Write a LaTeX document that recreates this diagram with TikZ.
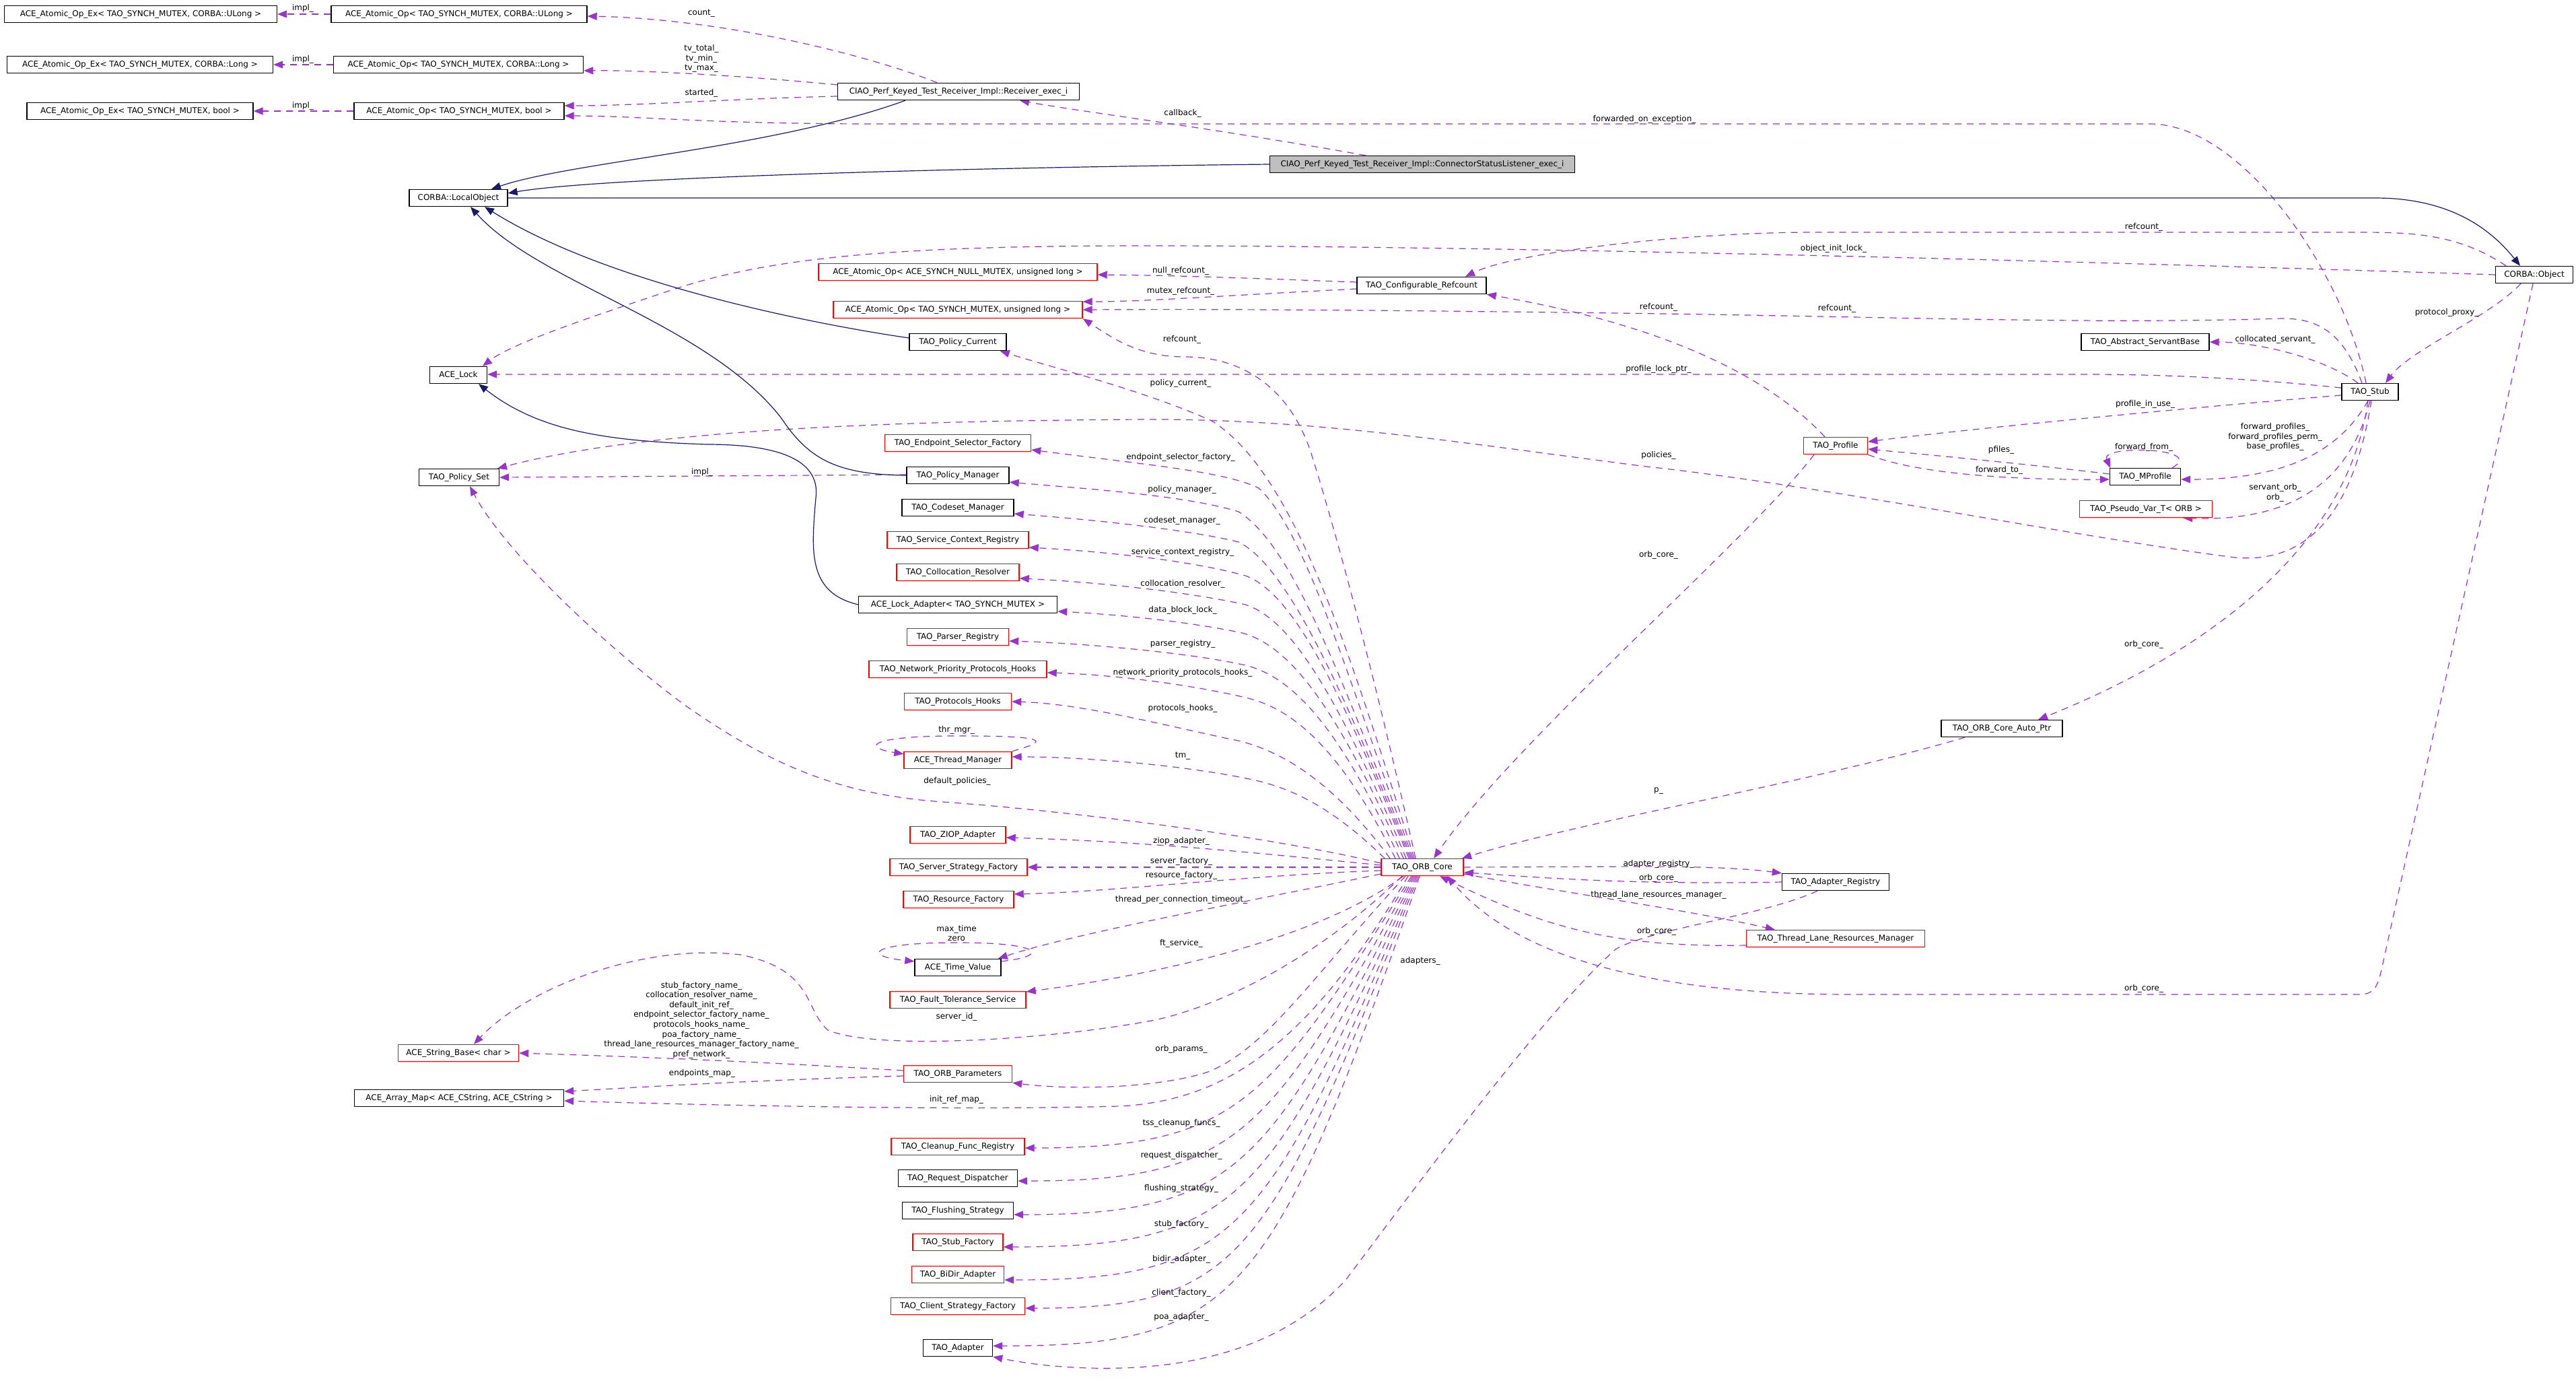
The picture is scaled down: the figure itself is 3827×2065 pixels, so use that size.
\documentclass[tikz,border=0pt]{standalone}
\usepackage{fontspec}
\setmainfont{DejaVu Sans}
\usetikzlibrary{arrows.meta}
\definecolor{dorch}{HTML}{9A32CD}
\definecolor{mblue}{HTML}{191970}
\definecolor{gfill}{HTML}{BFBFBF}
\pgfdeclarelayer{bg}
\pgfsetlayers{bg,main}
\newcommand{\fs}{\fontsize{12}{14.6}\selectfont}
\tikzset{
  box/.style={draw=black, line width=1.4pt, fill=white, minimum height=25pt, inner xsep=4pt, inner ysep=0pt, font=\fs, text=black},
  rbox/.style={box, draw=red},
  use/.style={draw=dorch, line width=1.2pt, dash pattern=on 10pt off 8pt, -{Triangle[length=14pt,width=11pt]}},
  inh/.style={draw=mblue, line width=1.2pt, -{Triangle[length=14pt,width=11pt]}},
  lbl/.style={font=\fs, inner sep=0pt, align=center, text=black}
}
\begin{document}
\begin{tikzpicture}[x=1pt,y=-1pt]
\path[use as bounding box] (0,0) rectangle (3827,2065);
% ---------- nodes ----------
\node[box, minimum width=405] (aoxUL) at (209,21) {ACE\_Atomic\_Op\_Ex< TAO\_SYNCH\_MUTEX, CORBA::ULong >};
\node[box, minimum width=380] (aoUL) at (682,21) {ACE\_Atomic\_Op< TAO\_SYNCH\_MUTEX, CORBA::ULong >};
\node[box, minimum width=395] (aoxL) at (208,96) {ACE\_Atomic\_Op\_Ex< TAO\_SYNCH\_MUTEX, CORBA::Long >};
\node[box, minimum width=371] (aoL) at (681,96) {ACE\_Atomic\_Op< TAO\_SYNCH\_MUTEX, CORBA::Long >};
\node[box, minimum width=336] (aoxB) at (208,165) {ACE\_Atomic\_Op\_Ex< TAO\_SYNCH\_MUTEX, bool >};
\node[box, minimum width=312] (aoB) at (682,165) {ACE\_Atomic\_Op< TAO\_SYNCH\_MUTEX, bool >};
\node[box, minimum width=359] (recv) at (1424,136) {CIAO\_Perf\_Keyed\_Test\_Receiver\_Impl::Receiver\_exec\_i};
\node[box, fill=gfill, minimum width=453] (csl) at (2113,244) {CIAO\_Perf\_Keyed\_Test\_Receiver\_Impl::ConnectorStatusListener\_exec\_i};
\node[box, minimum width=146] (lobj) at (681,294) {CORBA::LocalObject};
\node[box, minimum width=115] (obj) at (3765,408) {CORBA::Object};
\node[rbox, minimum width=414] (aoNull) at (1423,404) {ACE\_Atomic\_Op< ACE\_SYNCH\_NULL\_MUTEX, unsigned long >};
\node[rbox, minimum width=370] (aoULong) at (1423,460) {ACE\_Atomic\_Op< TAO\_SYNCH\_MUTEX, unsigned long >};
\node[box, minimum width=192] (cref) at (2112,424) {TAO\_Configurable\_Refcount};
\node[box, minimum width=144] (pcur) at (1423,508) {TAO\_Policy\_Current};
\node[box, minimum width=85] (lock) at (681,557) {ACE\_Lock};
\node[box, minimum width=190] (asb) at (3187,508) {TAO\_Abstract\_ServantBase};
\node[box, minimum width=84] (stub) at (3521,582) {TAO\_Stub};
\node[rbox, minimum width=217] (esf) at (1423,658) {TAO\_Endpoint\_Selector\_Factory};
\node[rbox, minimum width=95] (prof) at (2727,662) {TAO\_Profile};
\node[box, minimum width=119] (pset) at (682,709) {TAO\_Policy\_Set};
\node[box, minimum width=152] (pman) at (1423,706) {TAO\_Policy\_Manager};
\node[box, minimum width=105] (mprof) at (3187,708) {TAO\_MProfile};
\node[box, minimum width=166] (csm) at (1423,754) {TAO\_Codeset\_Manager};
\node[rbox, minimum width=197] (pvar) at (3188,756) {TAO\_Pseudo\_Var\_T< ORB >};
\node[rbox, minimum width=210] (scr) at (1423,802) {TAO\_Service\_Context\_Registry};
\node[rbox, minimum width=182] (colres) at (1423,850) {TAO\_Collocation\_Resolver};
\node[box, minimum width=295] (lad) at (1423,898) {ACE\_Lock\_Adapter< TAO\_SYNCH\_MUTEX >};
\node[rbox, minimum width=151] (preg) at (1423,946) {TAO\_Parser\_Registry};
\node[rbox, minimum width=264] (nph) at (1423,994) {TAO\_Network\_Priority\_Protocols\_Hooks};
\node[rbox, minimum width=159] (ph) at (1423,1042) {TAO\_Protocols\_Hooks};
\node[rbox, minimum width=160] (thm) at (1423,1129) {ACE\_Thread\_Manager};
\node[box, minimum width=180] (autop) at (2974,1082) {TAO\_ORB\_Core\_Auto\_Ptr};
\node[rbox, minimum width=142] (ziop) at (1423,1240) {TAO\_ZIOP\_Adapter};
\node[rbox, minimum width=204] (ssf) at (1424,1288) {TAO\_Server\_Strategy\_Factory};
\node[rbox, minimum width=122] (core) at (2113,1288) {TAO\_ORB\_Core};
\node[box, minimum width=159] (areg) at (2727,1310) {TAO\_Adapter\_Registry};
\node[rbox, minimum width=164] (rf) at (1424,1336) {TAO\_Resource\_Factory};
\node[rbox, minimum width=265] (tlrm) at (2727,1394) {TAO\_Thread\_Lane\_Resources\_Manager};
\node[box, minimum width=128] (tv) at (1423,1437) {ACE\_Time\_Value};
\node[rbox, minimum width=202] (fts) at (1423,1485) {TAO\_Fault\_Tolerance\_Service};
\node[rbox, minimum width=179] (sb) at (681,1564) {ACE\_String\_Base< char >};
\node[rbox, minimum width=161] (op) at (1423,1595) {TAO\_ORB\_Parameters};
\node[box, minimum width=311] (am) at (682,1631) {ACE\_Array\_Map< ACE\_CString, ACE\_CString >};
\node[rbox, minimum width=198] (cfr) at (1423,1703) {TAO\_Cleanup\_Func\_Registry};
\node[box, minimum width=177] (rd) at (1423,1750) {TAO\_Request\_Dispatcher};
\node[box, minimum width=165] (fs) at (1423,1798) {TAO\_Flushing\_Strategy};
\node[rbox, minimum width=134] (sf) at (1423,1845) {TAO\_Stub\_Factory};
\node[rbox, minimum width=137] (bd) at (1423,1893) {TAO\_BiDir\_Adapter};
\node[rbox, minimum width=199] (csf) at (1423,1940) {TAO\_Client\_Strategy\_Factory};
\node[box, minimum width=103] (ad) at (1423,2002) {TAO\_Adapter};
% ---------- edges ----------
\begin{pgfonlayer}{bg}
\fill[white] (0,0) rectangle (3827,2065);
\draw[use] (aoUL.west) -- (aoxUL.east);
\draw[use] (aoL.west) -- (aoxL.east);
\draw[use] (aoB.west) -- (aoxB.east);
\draw[use] ([xshift=-32]recv.north) .. controls (1300,85) and (1080,28) .. ([yshift=-3]aoUL.east);
\draw[use] ([yshift=10]recv.west) .. controls (1100,112) and (950,104) .. ([yshift=-9]aoL.east);
\draw[use] ([yshift=-7]recv.west) .. controls (1100,146) and (950,157) .. ([yshift=8]aoB.east);
\draw[use] ([xshift=-6]stub.north) .. controls (3480,400) and (3330,184) .. (3194,184) -- (1300,184) .. controls (1050,184) and (950,172) .. ([yshift=-7]aoB.east);
\draw[inh] ([xshift=-79]recv.south) .. controls (1150,220) and (850,240) .. ([xshift=49]lobj.north);
\draw[inh] (csl.west) .. controls (1500,248) and (900,262) .. ([yshift=7]lobj.east);
\draw[inh] (lobj.east) -- (3528,294) .. controls (3640,294) and (3700,340) .. ([xshift=-21]obj.north);
\draw[use] ([xshift=-84]csl.north) .. controls (1800,190) and (1600,165) .. ([xshift=91]recv.south);
\draw[use] ([xshift=-42]obj.north) .. controls (3650,346) and (3580,345) .. (3500,345) -- (2695,345) .. controls (2500,345) and (2250,375) .. ([xshift=65]cref.north);
\draw[use] (obj.west) .. controls (3000,385) and (2200,365) .. (1700,365) .. controls (1350,365) and (1150,380) .. (1000,430) .. controls (880,470) and (760,510) .. ([xshift=36]lock.north);
\draw[use] ([xshift=-20]obj.south) .. controls (3700,470) and (3580,520) .. ([xshift=23]stub.north);
\draw[use] ([xshift=-2]obj.south) -- (3538,1440) .. controls (3532,1468) and (3525,1477) .. (3505,1477) -- (2750,1477) .. controls (2450,1477) and (2250,1420) .. ([xshift=37]core.south);
\draw[use] ([yshift=5]cref.west) .. controls (1850,413) and (1750,409) .. ([yshift=-4]aoNull.east);
\draw[use] ([yshift=-5]cref.west) .. controls (1800,440) and (1700,448) .. ([yshift=12]aoULong.east);
\draw[use] ([xshift=-12]stub.north) .. controls (3480,490) and (3440,473) .. (3390,473) .. controls (3100,482) and (2800,470) .. (2400,465) .. controls (2000,460) and (1800,459) .. (aoULong.east);
\draw[use] ([xshift=-16]prof.north) .. controls (2600,530) and (2400,470) .. (cref.south east);
\draw[use] ([xshift=-10]core.north) .. controls (2030,950) and (1975,760) .. (1950,680) .. controls (1920,580) and (1850,530) .. (1760,530) .. controls (1690,530) and (1650,500) .. (aoULong.south east);
\draw[use] ([xshift=-12]core.north) .. controls (2000,950) and (1920,700) .. (1800,625) .. controls (1700,580) and (1560,545) .. ([xshift=-10]pcur.south east);
\draw[use] ([xshift=-14]core.north) .. controls (2000,1000) and (1940,790) .. (1870,725) .. controls (1820,700) and (1700,690) .. ([yshift=-10]esf.east);
\draw[use] ([xshift=-16]core.north) .. controls (1990,1000) and (1920,810) .. (1840,760) .. controls (1760,735) and (1600,725) .. ([yshift=-10]pman.east);
\draw[use] ([xshift=-18]core.north) .. controls (1990,1010) and (1910,840) .. (1840,805) .. controls (1760,785) and (1600,770) .. ([yshift=-9]csm.east);
\draw[use] ([xshift=-20]core.north) .. controls (1990,1020) and (1920,880) .. (1850,855) .. controls (1760,830) and (1620,818) .. ([yshift=-11]scr.east);
\draw[use] ([xshift=-24]core.north) .. controls (1990,1040) and (1920,920) .. (1850,898) .. controls (1760,878) and (1620,864) .. ([yshift=-9]colres.east);
\draw[use] ([xshift=-28]core.north) .. controls (1990,1060) and (1920,960) .. (1845,940) .. controls (1760,922) and (1650,912) .. ([yshift=-10]lad.east);
\draw[use] ([xshift=-34]core.north) .. controls (1990,1080) and (1920,1005) .. (1850,988) .. controls (1760,968) and (1600,955) .. ([yshift=-6]preg.east);
\draw[use] ([xshift=-40]core.north) .. controls (1990,1110) and (1920,1052) .. (1850,1036) .. controls (1760,1015) and (1650,1002) .. ([yshift=-5]nph.east);
\draw[use] ([xshift=-48]core.north) .. controls (1980,1160) and (1900,1110) .. (1824,1097) .. controls (1700,1070) and (1600,1045) .. (ph.east);
\draw[use] ([xshift=-56]core.north) .. controls (1980,1200) and (1920,1170) .. (1856,1157) .. controls (1750,1135) and (1600,1124) .. ([yshift=5]thm.east);
\draw[use] (thm.north east) .. controls (1560,1100) and (1560,1093) .. (1422,1093) .. controls (1290,1093) and (1280,1110) .. ([yshift=-4]thm.north west);
\draw[use] ([yshift=6]core.west) .. controls (1900,1245) and (1600,1205) .. (1400,1191) .. controls (1250,1180) and (1150,1140) .. (1017,1047) .. controls (900,960) and (750,820) .. ([xshift=16]pset.south);
\draw[use] ([yshift=3]core.west) .. controls (1850,1265) and (1700,1250) .. ([yshift=-4]ziop.east);
\draw[use] (core.west) -- (ssf.east);
\draw[use] ([yshift=-5]core.west) .. controls (1850,1300) and (1650,1325) .. ([yshift=8]rf.east);
\draw[use] ([yshift=-10]core.west) .. controls (1850,1340) and (1600,1385) .. ([xshift=-5]tv.north east);
\draw[use] ([yshift=-4]tv.north east) .. controls (1560,1420) and (1550,1400) .. (1423,1400) .. controls (1290,1400) and (1280,1420) .. ([yshift=-4]tv.north west);
\draw[use] ([xshift=-28]core.south) .. controls (1950,1400) and (1700,1450) .. ([yshift=12]fts.east);
\draw[use] ([xshift=-30]core.south) .. controls (1950,1430) and (1800,1500) .. (1705,1517) .. controls (1550,1545) and (1300,1560) .. (1230,1530) .. controls (1195,1500) and (1210,1440) .. (1100,1418) .. controls (950,1400) and (780,1470) .. ([xshift=23]sb.north);
\draw[use] ([yshift=5]op.west) .. controls (1100,1575) and (900,1568) .. (sb.east);
\draw[use] ([yshift=-3]op.west) .. controls (1100,1605) and (950,1615) .. ([yshift=10]am.east);
\draw[use] ([xshift=-25]core.south) .. controls (1950,1450) and (1880,1560) .. (1792,1593) .. controls (1720,1615) and (1600,1620) .. (op.south east);
\draw[use] ([xshift=-21]core.south) .. controls (1950,1540) and (1830,1635) .. (1662,1643) .. controls (1400,1650) and (1000,1640) .. ([yshift=-4]am.east);
\draw[use] ([xshift=-16]core.south) .. controls (1885,1635) and (1840,1705) .. ([yshift=-2]cfr.east);
\draw[use] ([xshift=-14]core.south) .. controls (1885,1684) and (1840,1754) .. ([yshift=-4]rd.east);
\draw[use] ([xshift=-12]core.south) .. controls (1885,1734) and (1840,1804) .. ([yshift=-6]fs.east);
\draw[use] ([xshift=-10]core.south) .. controls (1885,1782) and (1840,1852) .. ([yshift=-7]sf.east);
\draw[use] ([xshift=-8]core.south) .. controls (1885,1831) and (1840,1901) .. ([yshift=-8]bd.east);
\draw[use] ([xshift=-6]core.south) .. controls (1885,1873) and (1840,1943) .. ([yshift=-3]csf.east);
\draw[use] ([xshift=-4]core.south) .. controls (1890,1929) and (1840,1999) .. ([yshift=3]ad.east);
\draw[use] ([xshift=-27]areg.south) .. controls (2620,1360) and (2450,1380) .. (2400,1410) .. controls (2300,1500) and (2150,1700) .. (2000,1900) .. controls (1900,2010) and (1750,2035) .. (1622,2032) .. controls (1550,2030) and (1510,2022) .. (ad.south east);
\draw[use] (core.east) -- (2442,1287) .. controls (2560,1287) and (2610,1292) .. (areg.north west);
\draw[use] (areg.west) .. controls (2400,1315) and (2250,1300) .. ([yshift=-8]core.east);
\draw[use] ([yshift=-10]core.east) .. controls (2330,1327) and (2500,1350) .. ([xshift=43]tlrm.north west);
\draw[use] ([yshift=-10]tlrm.west) .. controls (2400,1407) and (2300,1380) .. ([xshift=26]core.south);
\draw[use] ([xshift=-55]autop.south) .. controls (2700,1160) and (2350,1220) .. ([xshift=59]core.north);
\draw[use] ([xshift=-32]prof.south) .. controls (2600,800) and (2250,1100) .. ([xshift=17]core.north);
\draw[use] ([xshift=-3]stub.south) .. controls (3490,800) and (3300,960) .. ([xshift=54]autop.north);
\draw[use] ([yshift=6]stub.west) .. controls (3380,566) and (3250,556) .. (3100,556) -- ([yshift=1]lock.east);
\draw[use] ([xshift=-18]stub.north) .. controls (3450,530) and (3350,508) .. (asb.east);
\draw[use] ([yshift=-5]stub.west) .. controls (3200,610) and (2900,640) .. ([yshift=6]prof.east);
\draw[use] ([xshift=-3]stub.south) .. controls (3470,680) and (3380,712) .. ([yshift=-4]mprof.east);
\draw[use] (stub.south) .. controls (3490,720) and (3400,775) .. ([xshift=55]pvar.south);
\draw[use] ([xshift=2]stub.south) .. controls (3490,800) and (3400,835) .. (3320,828) .. controls (3100,800) and (2700,720) .. (2446,693) .. controls (2150,655) and (1950,622) .. (1700,623) .. controls (1300,625) and (950,640) .. ([xshift=57]pset.north);
\draw[use] ([xshift=40]mprof.north) .. controls (3280,665) and (3120,660) .. ([xshift=-52]mprof.north);
\draw[use] ([yshift=4]mprof.west) .. controls (3000,688) and (2860,675) .. ([yshift=-5]prof.east);
\draw[use] (prof.south east) .. controls (2850,705) and (3000,713) .. ([yshift=-4]mprof.west);
\draw[use] ([yshift=1]pman.west) -- (pset.east);
\draw[inh] (pman.west) .. controls (1240,705) and (1200,680) .. (1160,620) .. controls (1050,480) and (800,420) .. ([xshift=18]lobj.south);
\draw[inh] ([yshift=6]pcur.west) .. controls (1200,480) and (900,420) .. ([xshift=39]lobj.south);
\draw[inh] (lad.west) .. controls (1200,880) and (1205,820) .. (1212,740) .. controls (1220,680) and (1150,660) .. (1050,660) .. controls (900,655) and (800,640) .. ([xshift=30]lock.south);
\end{pgfonlayer}
% ---------- labels ----------
\node[lbl] (l01) at (450,12) {impl\_};
\node[lbl] (l02) at (450,88) {impl\_};
\node[lbl] (l03) at (450,157) {impl\_};
\node[lbl] (l04) at (1042,20) {count\_};
\node[lbl] (l05) at (1042,87) {tv\_total\_\\tv\_min\_\\tv\_max\_};
\node[lbl] (l06) at (1042,138) {started\_};
\node[lbl] (l07) at (1757,168) {callback\_};
\node[lbl] (l08) at (2443,177) {forwarded\_on\_exception\_};
\node[lbl] (l09) at (3185,337) {refcount\_};
\node[lbl] (l10) at (2724,369) {object\_init\_lock\_};
\node[lbl] (l11) at (3635,464) {protocol\_proxy\_};
\node[lbl] (l12) at (1754,402) {null\_refcount\_};
\node[lbl] (l13) at (1754,432) {mutex\_refcount\_};
\node[lbl] (l14) at (2464,456) {refcount\_};
\node[lbl] (l15) at (2729,458) {refcount\_};
\node[lbl] (l16) at (1756,504) {refcount\_};
\node[lbl] (l17) at (3380,504) {collocated\_servant\_};
\node[lbl] (l18) at (2464,548) {profile\_lock\_ptr\_};
\node[lbl] (l19) at (1754,569) {policy\_current\_};
\node[lbl] (l20) at (3187,600) {profile\_in\_use\_};
\node[lbl] (l21) at (3380,649) {forward\_profiles\_\\forward\_profiles\_perm\_\\base\_profiles\_};
\node[lbl] (l22) at (3185,664) {forward\_from\_};
\node[lbl] (l23) at (2973,668) {pfiles\_};
\node[lbl] (l24) at (2464,676) {policies\_};
\node[lbl] (l25) at (1754,679) {endpoint\_selector\_factory\_};
\node[lbl] (l26) at (2970,698) {forward\_to\_};
\node[lbl] (l27) at (1043,701) {impl\_};
\node[lbl] (l28) at (1756,727) {policy\_manager\_};
\node[lbl] (l29) at (3380,732) {servant\_orb\_\\orb\_};
\node[lbl] (l30) at (1756,773) {codeset\_manager\_};
\node[lbl] (l31) at (1757,820) {service\_context\_registry\_};
\node[lbl] (l32) at (2464,824) {orb\_core\_};
\node[lbl] (l33) at (1757,867) {collocation\_resolver\_};
\node[lbl] (l34) at (1757,906) {data\_block\_lock\_};
\node[lbl] (l35) at (1757,956) {parser\_registry\_};
\node[lbl] (l36) at (3185,957) {orb\_core\_};
\node[lbl] (l37) at (1757,999) {network\_priority\_protocols\_hooks\_};
\node[lbl] (l38) at (1757,1052) {protocols\_hooks\_};
\node[lbl] (l39) at (1421,1084) {thr\_mgr\_};
\node[lbl] (l40) at (1757,1123) {tm\_};
\node[lbl] (l41) at (1422,1160) {default\_policies\_};
\node[lbl] (l42) at (2464,1175) {p\_};
\node[lbl] (l43) at (1755,1249) {ziop\_adapter\_};
\node[lbl] (l44) at (1755,1279) {server\_factory\_};
\node[lbl] (l45) at (2464,1283) {adapter\_registry\_};
\node[lbl] (l46) at (1755,1300) {resource\_factory\_};
\node[lbl] (l47) at (2464,1304) {orb\_core\_};
\node[lbl] (l48) at (2464,1329) {thread\_lane\_resources\_manager\_};
\node[lbl] (l49) at (1755,1336) {thread\_per\_connection\_timeout\_};
\node[lbl] (l50) at (1421,1386) {max\_time\\zero};
\node[lbl] (l51) at (2461,1383) {orb\_core\_};
\node[lbl] (l52) at (1755,1401) {ft\_service\_};
\node[lbl] (l53) at (2110,1427) {adapters\_};
\node[lbl] (l54) at (3185,1468) {orb\_core\_};
\node[lbl] (l55) at (1421,1510) {server\_id\_};
\node[lbl] (l56) at (1042,1515) {stub\_factory\_name\_\\collocation\_resolver\_name\_\\default\_init\_ref\_\\endpoint\_selector\_factory\_name\_\\protocols\_hooks\_name\_\\poa\_factory\_name\_\\thread\_lane\_resources\_manager\_factory\_name\_\\pref\_network\_};
\node[lbl] (l57) at (1755,1558) {orb\_params\_};
\node[lbl] (l58) at (1043,1594) {endpoints\_map\_};
\node[lbl] (l59) at (1421,1633) {init\_ref\_map\_};
\node[lbl] (l60) at (1755,1668) {tss\_cleanup\_funcs\_};
\node[lbl] (l61) at (1755,1716) {request\_dispatcher\_};
\node[lbl] (l62) at (1755,1765) {flushing\_strategy\_};
\node[lbl] (l63) at (1755,1818) {stub\_factory\_};
\node[lbl] (l64) at (1755,1870) {bidir\_adapter\_};
\node[lbl] (l65) at (1755,1920) {client\_factory\_};
\node[lbl] (l66) at (1755,1956) {poa\_adapter\_};
\end{tikzpicture}
\end{document}
